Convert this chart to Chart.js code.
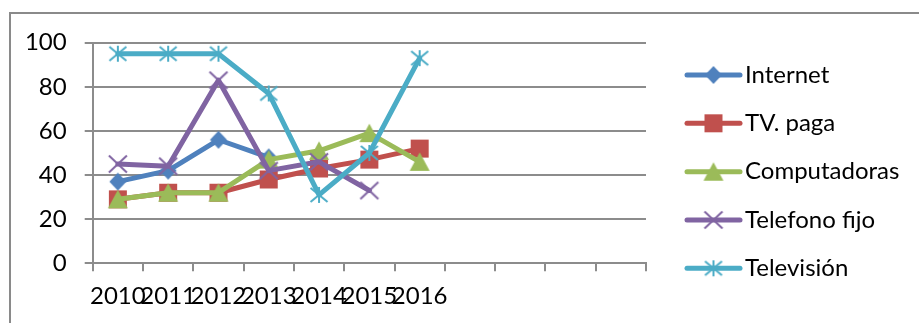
<!DOCTYPE html>
<html>
<head>
<meta charset="utf-8">
<script src="https://cdn.jsdelivr.net/npm/chart.js@4/dist/chart.umd.min.js"></script>
<style>
  html, body { margin: 0; padding: 0; background: #ffffff; }
  #wrap { width: 919px; height: 323px; }
</style>
</head>
<body>
<div id="wrap"><canvas id="c" width="919" height="323"></canvas></div>
<script>
// Years on the category axis (the axis keeps four empty slots after 2016)
const years = ['2010', '2011', '2012', '2013', '2014', '2015', '2016', '', '', '', ''];

// Series values per year (null = no value for that year)
const internet     = [37, 42, 56, 48, null, null, null, null, null, null, null];
const tvPaga       = [29, 32, 32, 38, 43, 47, 52, null, null, null, null];
const computadoras = [29, 32, 32, 47, 51, 59, 46, null, null, null, null];
const telefonoFijo = [45, 44, 83, 42, 46, 33, null, null, null, null, null];
const television   = [95, 95, 95, 77, 31, 50, 93, null, null, null, null];

const seriesNames = ['Internet', 'TV. paga', 'Computadoras', 'Telefono fijo', 'Televisión'];
const yTicks = [0, 20, 40, 60, 80, 100];

const FONT = 'Lato, "Open Sans", sans-serif';
const FONT_SIZE = 24;
const GRID = '#8c8c8c';

// Marker sprites, drawn once and used as point styles
function marker(shape, color) {
  const s = 22;
  const cv = document.createElement('canvas');
  cv.width = s; cv.height = s;
  const g = cv.getContext('2d');
  const c = s / 2;
  g.fillStyle = color;
  g.strokeStyle = color;
  g.lineCap = 'butt';
  if (shape === 'diamond') {
    g.beginPath();
    g.moveTo(c, c - 9); g.lineTo(c + 8.5, c); g.lineTo(c, c + 9); g.lineTo(c - 8.5, c);
    g.closePath(); g.fill();
  } else if (shape === 'square') {
    g.fillRect(c - 9, c - 9, 18, 18);
  } else if (shape === 'triangle') {
    g.beginPath();
    g.moveTo(c, c - 9.5); g.lineTo(c + 10, c + 9); g.lineTo(c - 10, c + 9);
    g.closePath(); g.fill();
  } else if (shape === 'x') {
    g.lineWidth = 2;
    g.beginPath();
    g.moveTo(c - 9, c - 8.5); g.lineTo(c + 9, c + 8.5);
    g.moveTo(c + 9, c - 8.5); g.lineTo(c - 9, c + 8.5);
    g.stroke();
  } else if (shape === 'star') {
    g.lineWidth = 2;
    g.beginPath();
    g.moveTo(c, c - 8); g.lineTo(c, c + 8);
    g.moveTo(c - 8.5, c - 7); g.lineTo(c + 8.5, c + 7);
    g.moveTo(c + 8.5, c - 7); g.lineTo(c - 8.5, c + 7);
    g.stroke();
  }
  return cv;
}

const colors = ['#4f81bd', '#c0504d', '#9bbb59', '#8064a2', '#4bacc6'];
const shapes = ['diamond', 'square', 'triangle', 'x', 'star'];
const values = [internet, tvPaga, computadoras, telefonoFijo, television];
const sprites = shapes.map((s, i) => marker(s, colors[i]));

const datasets = values.map((v, i) => ({
  label: seriesNames[i],
  data: v,
  borderColor: colors[i],
  backgroundColor: colors[i],
  borderWidth: 5,
  borderJoinStyle: 'round',
  borderCapStyle: 'round',
  pointStyle: sprites[i],
  pointRadius: 9,
  pointHoverRadius: 9,
  tension: 0,
  spanGaps: false,
  order: values.length - i   // later series sit on top
}));

// White background plus the outer chart frame
const framePlugin = {
  id: 'frame',
  beforeDraw(chart) {
    const ctx = chart.ctx;
    ctx.save();
    ctx.fillStyle = '#ffffff';
    ctx.fillRect(0, 0, chart.width, chart.height);
    ctx.strokeStyle = '#8a8a8a';
    ctx.lineWidth = 2;
    ctx.strokeRect(10, 13, 1000, 1000);
    ctx.restore();
  }
};

// Legend on the right: line segment with the marker, then the series name
const legendPlugin = {
  id: 'sideLegend',
  afterDraw(chart) {
    const ctx = chart.ctx;
    const x0 = 687, x1 = 740, tx = 745;
    const rowY = [75, 123.3, 171.7, 220, 268.3];
    ctx.save();
    seriesNames.forEach((name, i) => {
      const y = rowY[i];
      ctx.strokeStyle = colors[i];
      ctx.lineWidth = 5;
      ctx.lineCap = 'round';
      ctx.beginPath();
      ctx.moveTo(x0, y); ctx.lineTo(x1, y);
      ctx.stroke();
      const sp = sprites[i];
      ctx.drawImage(sp, (x0 + x1) / 2 - sp.width / 2, y - sp.height / 2);
      ctx.fillStyle = '#000000';
      ctx.font = FONT_SIZE + 'px ' + FONT;
      ctx.textBaseline = 'middle';
      ctx.textAlign = 'left';
      ctx.fillText(name, tx, y);
    });
    ctx.restore();
  }
};

new Chart(document.getElementById('c'), {
  type: 'line',
  data: { labels: years, datasets },
  options: {
    responsive: false,
    animation: false,
    devicePixelRatio: 1,
    layout: { padding: { left: 0, top: 42.7, right: 273, bottom: 0 } },
    plugins: { legend: { display: false }, tooltip: { enabled: false } },
    scales: {
      x: {
        offset: true,
        grid: { display: true, offset: true, drawOnChartArea: false, drawTicks: true, tickLength: 8, color: GRID, lineWidth: 2 },
        border: { display: true, color: GRID, width: 2 },
        ticks: {
          autoSkip: false, maxRotation: 0, minRotation: 0,
          color: '#000000', padding: 11,
          font: { family: FONT, size: FONT_SIZE }
        },
        afterFit(scale) { scale.height = 323 - 263.3; }
      },
      y: {
        min: 0, max: 100,
        afterBuildTicks(scale) { scale.ticks = yTicks.map(v => ({ value: v })); },
        grid: { color: GRID, lineWidth: 2, tickLength: 8, drawTicks: true },
        border: { display: true, color: GRID, width: 2 },
        ticks: {
          color: '#000000', padding: 18,
          font: { family: FONT, size: FONT_SIZE }
        },
        afterFit(scale) { scale.width = 92.7; }
      }
    }
  },
  plugins: [framePlugin, legendPlugin]
});
</script>
</body>
</html>
